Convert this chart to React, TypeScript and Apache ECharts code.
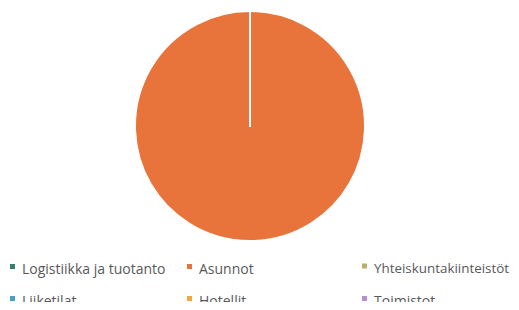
import React, { useEffect, useRef } from "react";
import * as echarts from "echarts";

const categories = [
  "Logistiikka ja tuotanto",
  "Asunnot",
  "Yhteiskuntakiinteistöt",
  "Liiketilat",
  "Hotellit",
  "Toimistot",
];
const values = [0, 100, 0, 0, 0, 0];
const colors = ["#37806f", "#e8743b", "#b9b06e", "#4a9fc4", "#f7a640", "#b78fcb"];

const legendLefts = [10, 187, 362];
const legendTops = [261, 293];

export default function App() {
  const ref = useRef<HTMLDivElement>(null);
  useEffect(() => {
    if (!ref.current) return;
    const chart = echarts.init(ref.current, null, { renderer: "svg" });
    chart.setOption({
      animation: false,
      color: colors,
      legend: categories.map((name, i) => ({
        left: legendLefts[i % 3],
        top: legendTops[Math.floor(i / 3)],
        padding: 0,
        itemWidth: 5,
        itemHeight: 8,
        icon: "path://M0,0h5v5h-5z M0,8h5",
        itemStyle: { borderWidth: 0 },
        selectedMode: false,
        data: [name],
        textStyle: {
          fontFamily: "Open Sans",
          fontSize: name.length > 21 && i === 2 ? 13.4 : 14,
          padding: [0, 0, 0, 2],
          color: "#595959",
        },
      })),
      series: [
        {
          type: "pie",
          center: [250, 126],
          radius: 115,
          startAngle: 90,
          label: { show: false },
          labelLine: { show: false },
          silent: true,
          itemStyle: { borderColor: "#ffffff", borderWidth: 2 },
          data: categories.map((name, i) => ({ name, value: values[i] })),
        },
      ],
    });
    return () => chart.dispose();
  }, []);
  return <div ref={ref} style={{ width: 519, height: 310, margin: -8 }} />;
}
